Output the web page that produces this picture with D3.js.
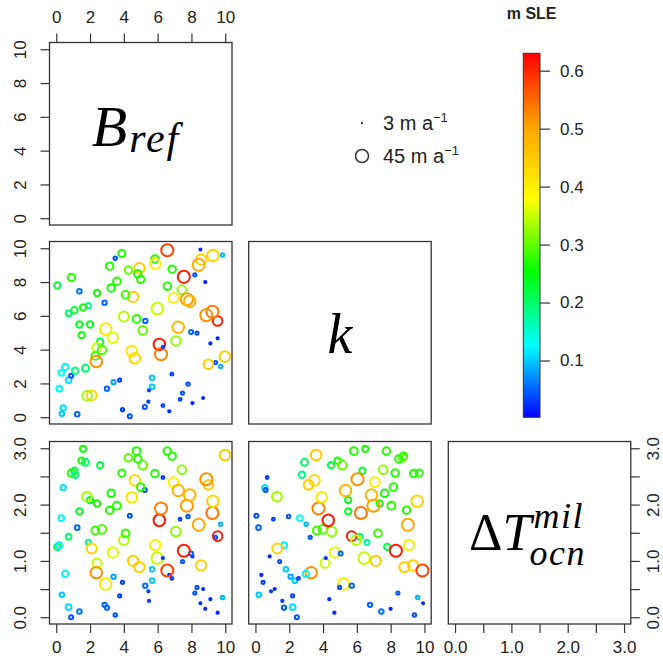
<!DOCTYPE html>
<html>
<head>
<meta charset="utf-8">
<script src="https://cdnjs.cloudflare.com/ajax/libs/d3/7.8.5/d3.min.js"></script>
<style>
body{margin:0;background:#fff}
svg{display:block}
</style>
</head>
<body>
<svg id="chart" width="663" height="662"></svg>
<script>
// sampled parameters (one entry per run)
var bref = [0.06,0.90,1.37,2.41,2.86,1.90,1.59,1.08,0.73,1.37,
	2.00,1.50,2.60,2.41,2.70,2.31,2.37,2.92,3.35,0.53,
	0.30,0.73,0.88,1.12,1.73,0.18,0.41,0.33,1.24,1.82,
	2.10,3.00,3.39,3.75,3.92,4.35,5.24,5.45,5.49,5.67,
	5.67,6.31,6.69,6.84,7.33,7.47,7.80,8.06,8.69,7.98,
	8.33,9.12,9.55,9.43,9.73,9.00,9.98,9.55,9.24,8.88,
	9.27,9.84,8.53,8.57,8.43,8.20,8.82,7.55,6.57,5.84,
	5.86,6.86,6.57,7.43,6.94,7.73,7.90,5.98,7.22,7.08,
	6.10,6.20,6.31,5.27,5.12,4.75,4.00,4.47,4.65,4.55,
	4.10,3.25,3.59,3.16,3.49,3.88,4.27,4.92,4.82,5.00];
var kval = [7.80,8.27,7.45,7.35,6.78,6.60,6.50,6.33,6.16,5.49,
	5.49,4.86,4.47,4.12,3.98,3.63,3.30,5.22,4.70,2.98,
	2.63,2.20,2.45,2.75,2.90,1.70,0.55,0.20,0.18,1.27,
	1.29,1.69,2.08,2.20,0.45,0.06,0.60,0.92,1.59,1.80,
	2.33,0.69,0.35,2.55,1.06,1.43,1.96,0.84,1.14,5.04,
	4.98,4.37,4.67,3.24,3.00,3.14,3.59,5.69,6.24,6.04,
	9.57,9.60,9.92,9.33,9.02,8.43,8.00,8.31,9.88,9.37,
	9.08,8.76,7.75,7.55,7.06,6.98,6.86,6.43,5.33,4.51,
	4.31,3.73,4.16,5.70,5.14,5.82,5.96,3.92,3.49,7.12,
	7.25,7.65,8.04,8.94,9.41,9.69,8.71,8.82,8.49,8.16];
var dtocn = [1.25,2.56,0.10,2.02,0.22,1.33,2.99,2.60,1.43,1.88,
	2.08,2.78,2.70,0.96,1.56,1.54,0.79,0.59,1.15,0.77,
	1.76,0.18,0.00,2.53,2.75,1.28,2.30,0.40,1.59,2.14,
	1.22,0.17,0.72,0.38,0.62,1.80,2.26,0.46,0.29,0.85,
	0.65,2.48,0.75,0.69,1.74,0.99,1.79,1.08,0.50,1.13,
	0.53,0.32,0.08,1.42,1.65,2.35,2.88,1.44,1.85,2.45,
	2.06,0.35,0.25,0.92,1.64,0.43,0.15,1.18,0.83,2.55,
	1.28,2.86,2.95,2.62,2.40,1.98,2.17,1.05,2.25,1.52,
	1.72,1.93,1.05,0.56,2.70,2.95,1.37,2.13,2.43,1.00,
	1.49,2.20,1.98,1.90,0.04,2.56,2.83,0.89,2.81,2.31];
// sea level contribution (m SLE) -> colour
var sle = [0.22,0.27,0.06,0.26,0.05,0.18,0.26,0.23,0.20,0.24,
	0.24,0.26,0.22,0.35,0.29,0.28,0.52,0.41,0.36,0.12,
	0.13,0.11,0.04,0.19,0.20,0.12,0.11,0.10,0.05,0.33,
	0.44,0.05,0.08,0.03,0.03,0.04,0.04,0.03,0.03,0.10,
	0.10,0.03,0.02,0.03,0.03,0.04,0.04,0.02,0.02,0.05,
	0.04,0.02,0.02,0.04,0.09,0.45,0.45,0.61,0.54,0.52,
	0.44,0.09,0.02,0.44,0.50,0.04,0.02,0.61,0.58,0.27,
	0.40,0.27,0.27,0.32,0.40,0.51,0.48,0.35,0.48,0.32,
	0.61,0.53,0.03,0.05,0.30,0.27,0.34,0.41,0.43,0.45,
	0.28,0.26,0.27,0.27,0.04,0.27,0.30,0.45,0.27,0.27];
// rate (m a-1) -> symbol size
var rate = [22,26,16,22,15,18,22,22,20,22,
	22,22,22,32,30,27,40,40,36,22,
	20,20,14,22,24,20,18,16,16,33,
	34,15,15,11,11,14,14,8,8,16,
	16,10,8,10,10,11,12,8,7,14,
	11,8,8,11,12,33,37,33,42,42,
	40,12,7,36,42,11,8,42,42,26,
	36,26,26,30,34,42,40,40,40,33,
	40,42,8,15,30,27,34,37,37,36,
	27,26,27,26,12,25,26,36,26,26];

var legendRates = [3, 45];
var sleTicks = [0.1,0.2,0.3,0.4,0.5,0.6];
var sleRange = [0.002, 0.63];
var rainbowCols = ['#0000ff','#00ffff','#00ff00','#ffff00','#ffa500','#ff0000'];
var tenTicks = [0,2,4,6,8,10];
var tempTicks = [0,0.5,1,1.5,2,2.5,3];

var svg = d3.select('#chart');
var size = 182.5;
var colX = [49.5, 248.7, 448.3];
var rowY = [42.5, 241.5, 441.5];
var sans = 'Liberation Sans, Arial, Helvetica, sans-serif';
var serif = 'Liberation Serif, Times New Roman, serif';

var color = d3.scaleLinear()
	.domain(rainbowCols.map((c,i) => sleRange[1]*i/(rainbowCols.length-1)))
	.range(rainbowCols)
	.clamp(true);
var rad = d3.scaleLinear().domain([0,45]).range([0,6.5]);

var vars = [
	{vals: bref, lim: [0,10], ticks: tenTicks, fmt: d3.format('d')},
	{vals: kval, lim: [0,10], ticks: tenTicks, fmt: d3.format('d')},
	{vals: dtocn, lim: [0,3], ticks: tempTicks, fmt: d => d % 1 === 0 ? d.toFixed(1) : ''}
];

function padDomain(lim){
	var p = (lim[1]-lim[0])*0.04;
	return [lim[0]-p, lim[1]+p];
}
function xsc(v,j){ return d3.scaleLinear().domain(padDomain(vars[v].lim)).range([colX[j], colX[j]+size]); }
function ysc(v,i){ return d3.scaleLinear().domain(padDomain(vars[v].lim)).range([rowY[i]+size, rowY[i]]); }

var data = bref.map((b,i) => ({v: [b, kval[i], dtocn[i]], sle: sle[i], rate: rate[i]}));

// panel boxes
for (var i = 0; i < 3; i++){
	for (var j = 0; j < 3; j++){
		if (j > i) continue;
		svg.append('rect').attr('x',colX[j]).attr('y',rowY[i])
			.attr('width',size).attr('height',size)
			.attr('fill','none').attr('stroke','#333').attr('stroke-width',1.3);
	}
}

// scatter panels below the diagonal
[[1,0],[2,0],[2,1]].forEach(function(p){
	var i = p[0], j = p[1];
	var xs = xsc(j,j), ys = ysc(i,i);
	svg.append('g').selectAll('circle').data(data)
		.enter().append('circle')
		.attr('cx', d => xs(d.v[j]))
		.attr('cy', d => ys(d.v[i]))
		.attr('r', d => rad(d.rate))
		.attr('fill','none')
		.attr('stroke', d => color(d.sle))
		.attr('stroke-width',2);
});

function styleAxis(g, side, off){
	g.attr('font-size',17).attr('font-family',sans);
	g.select('.domain').remove();
	g.selectAll('line').attr('stroke','#333').attr('stroke-width',1.2);
	var t = g.selectAll('text').attr('fill','#222').attr('dy',0);
	if (side === 'left' || side === 'right'){
		t.attr('transform','rotate(-90)').attr('x',0).attr('y',off).attr('text-anchor','middle');
	} else {
		t.attr('y',off);
	}
}

// axes
var gTop = svg.append('g').attr('transform',`translate(0,${rowY[0]})`)
	.call(d3.axisTop(xsc(0,0)).tickValues(vars[0].ticks).tickFormat(vars[0].fmt).tickSize(9));
styleAxis(gTop,'top',-20);
for (var i = 0; i < 3; i++){
	var gl = svg.append('g').attr('transform',`translate(${colX[0]},0)`)
		.call(d3.axisLeft(ysc(i,i)).tickValues(vars[i].ticks).tickFormat(vars[i].fmt).tickSize(9));
	styleAxis(gl,'left',-23.5);
	var gb = svg.append('g').attr('transform',`translate(0,${rowY[2]+size})`)
		.call(d3.axisBottom(xsc(i,i)).tickValues(vars[i].ticks).tickFormat(vars[i].fmt).tickSize(9));
	styleAxis(gb,'bottom',29);
}
var gr = svg.append('g').attr('transform',`translate(${colX[2]+size},0)`)
	.call(d3.axisRight(ysc(2,2)).tickValues(vars[2].ticks).tickFormat(vars[2].fmt).tickSize(9));
styleAxis(gr,'right',28.5);

// diagonal labels
var c0 = [colX[0]+size/2, rowY[0]+size/2];
var lb = svg.append('text').attr('x',c0[0]-49).attr('y',c0[1]+12)
	.attr('font-family',serif).attr('font-style','italic').attr('font-size',58).attr('fill','#000');
lb.append('tspan').text('B');
lb.append('tspan').attr('font-size',42).attr('dy',6).attr('dx',2).attr('letter-spacing',2).text('ref');

var c1 = [colX[1]+size/2, rowY[1]+size/2];
svg.append('text').attr('x',c1[0]).attr('y',c1[1]+20).attr('text-anchor','middle')
	.attr('font-family',serif).attr('font-style','italic').attr('font-size',56).text('k');

var c2 = [colX[2]+size/2, rowY[2]+size/2];
var dt = svg.append('text').attr('x',c2[0]-70.5).attr('y',c2[1]+17)
	.attr('font-family',serif).attr('font-size',52);
dt.append('tspan').text('\u0394');
dt.append('tspan').attr('font-style','italic').text('T');
var dtw = dt.node().getComputedTextLength();
svg.append('text').attr('x',c2[0]-70.5+dtw+2).attr('y',c2[1]-5)
	.attr('font-family',serif).attr('font-style','italic').attr('font-size',36).attr('letter-spacing',1.5).text('mil');
svg.append('text').attr('x',c2[0]-70.5+dtw-2).attr('y',c2[1]+32)
	.attr('font-family',serif).attr('font-style','italic').attr('font-size',36).attr('letter-spacing',1.5).text('ocn');

// size legend
var lg = svg.append('g');
legendRates.forEach(function(r,i){
	var y = 123 + i*33;
	lg.append('circle').attr('cx',362).attr('cy',y).attr('r',rad(r))
		.attr('fill','none').attr('stroke','#333').attr('stroke-width',1.5);
	var t = lg.append('text').attr('x',383).attr('y',y+7)
		.attr('font-family',sans).attr('font-size',20).attr('fill','#222');
	t.append('tspan').text(r + ' m a');
	t.append('tspan').attr('font-size',13).attr('dy',-8).text('\u22121');
});

// colour bar
var cbX = 523.3, cbW = 16.7;
var cbY = d3.scaleLinear().domain(sleRange).range([417.3, 53.3]);
var grad = svg.append('defs').append('linearGradient').attr('id','cbar')
	.attr('x1',0).attr('y1',1).attr('x2',0).attr('y2',0);
color.domain().forEach(function(v,i){
	grad.append('stop')
		.attr('offset', (v - sleRange[0])/(sleRange[1]-sleRange[0]))
		.attr('stop-color', rainbowCols[i]);
});
svg.append('rect').attr('x',cbX).attr('y',cbY(sleRange[1]))
	.attr('width',cbW).attr('height',cbY(sleRange[0])-cbY(sleRange[1]))
	.attr('fill','url(#cbar)').attr('stroke','#333').attr('stroke-width',1);
var gc = svg.append('g').attr('transform',`translate(${cbX+cbW},0)`)
	.call(d3.axisRight(cbY).tickValues(sleTicks).tickFormat(d3.format('.1f')).tickSize(10).tickPadding(10));
gc.attr('font-size',17).attr('font-family',sans);
gc.select('.domain').remove();
gc.selectAll('line').attr('stroke','#333').attr('stroke-width',1.2);
gc.selectAll('text').attr('fill','#222');
svg.append('text').attr('x',cbX+cbW/2).attr('y',19).attr('text-anchor','middle')
	.attr('font-family',sans).attr('font-weight','bold').attr('font-size',16).attr('fill','#222').text('m SLE');
</script>
</body>
</html>
